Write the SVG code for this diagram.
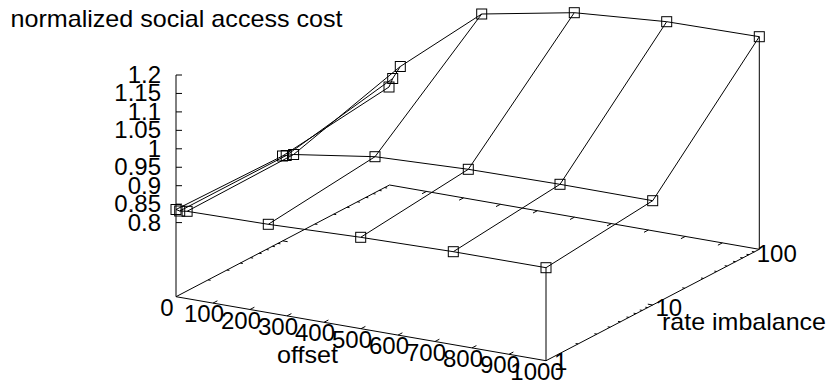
<svg xmlns="http://www.w3.org/2000/svg" xmlns:xlink="http://www.w3.org/1999/xlink" width="830" height="385" viewBox="0 0 830 385">
<style>
  .ln { fill: none; stroke: #000; stroke-width: 1; }
  .tk { fill: none; stroke: #000; stroke-width: 1; }
  .t { font-family: "Liberation Sans", Arial, sans-serif; font-size: 24px; fill: #000; }
  .e { text-anchor: end; }
  .m { text-anchor: middle; }
</style>
<defs>
  <rect id="pt" x="-5" y="-5" width="10" height="10" fill="none" stroke="#000" stroke-width="1"/>
</defs>
<rect x="0" y="0" width="830" height="385" fill="#fff"/>

<g id="title">
  <text class="t" x="10.5" y="27" textLength="332" lengthAdjust="spacingAndGlyphs">normalized social access cost</text>
</g>

<g id="base">
  <path class="ln" d="M176 296.7 L546 360.7 L759.3 249.3 L389.5 185 Z"/>
  <path class="ln" d="M176 296.7 L176 75"/>
  <path class="ln" d="M546 267.7 L546 360.7"/>
  <path class="ln" d="M759.3 36.7 L759.3 249.3"/>
</g>

<g id="ticks">
  <path class="tk" d="M176 75 h6 M176 93.45 h6 M176 111.9 h6 M176 130.35 h6 M176 148.8 h6 M176 167.25 h6 M176 185.7 h6 M176 204.15 h6 M176 222.6 h6"/>
  <path class="tk" d="M213 303.1 l4.4 -2.3 M250 309.5 l4.4 -2.3 M287 315.9 l4.4 -2.3 M324 322.3 l4.4 -2.3 M361 328.7 l4.4 -2.3 M398 335.1 l4.4 -2.3 M435 341.5 l4.4 -2.3 M472 347.9 l4.4 -2.3 M509 354.3 l4.4 -2.3"/>
  <path class="tk" d="M426.5 191.4 l-4.4 2.3 M463.5 197.9 l-4.4 2.3 M500.4 204.3 l-4.4 2.3 M537.4 210.7 l-4.4 2.3 M574.4 217.2 l-4.4 2.3 M611.4 223.6 l-4.4 2.3 M648.4 230 l-4.4 2.3 M685.3 236.4 l-4.4 2.3 M722.3 242.9 l-4.4 2.3"/>
  <path class="tk" d="M578.1 343.9 l-2.5 -0.4 M596.9 334.1 l-2.5 -0.4 M610.2 327.2 l-2.5 -0.4 M620.5 321.8 l-2.5 -0.4 M629 317.4 l-2.5 -0.4 M636.1 313.6 l-2.5 -0.4 M642.3 310.4 l-2.5 -0.4 M647.8 307.6 l-2.5 -0.4 M652.7 305 l-4.9 -0.85 M684.8 288.2 l-2.5 -0.4 M703.5 278.4 l-2.5 -0.4 M716.9 271.5 l-2.5 -0.4 M727.2 266.1 l-2.5 -0.4 M735.6 261.7 l-2.5 -0.4 M742.8 257.9 l-2.5 -0.4 M749 254.7 l-2.5 -0.4 M754.4 251.9 l-2.5 -0.4"/>
  <path class="tk" d="M208.1 279.9 l2.5 0.4 M226.9 270 l2.5 0.4 M240.3 263.1 l2.5 0.4 M250.6 257.7 l2.5 0.4 M259.1 253.2 l2.5 0.4 M266.2 249.5 l2.5 0.4 M272.4 246.3 l2.5 0.4 M277.9 243.4 l2.5 0.4 M282.75 240.85 l4.9 0.85 M314.9 224 l2.5 0.4 M333.7 214.2 l2.5 0.4 M347 207.2 l2.5 0.4 M357.4 201.8 l2.5 0.4 M365.8 197.4 l2.5 0.4 M373 193.6 l2.5 0.4 M379.1 190.4 l2.5 0.4 M384.6 187.6 l2.5 0.4"/>
</g>

<g id="z-labels">
  <text class="t e" x="161" y="83">1.2</text>
  <text class="t e" x="161" y="101.45">1.15</text>
  <text class="t e" x="161" y="119.9">1.1</text>
  <text class="t e" x="161" y="138.35">1.05</text>
  <text class="t e" x="161" y="156.8">1</text>
  <text class="t e" x="161" y="175.25">0.95</text>
  <text class="t e" x="161" y="193.7">0.9</text>
  <text class="t e" x="161" y="212.15">0.85</text>
  <text class="t e" x="161" y="230.6">0.8</text>
</g>

<g id="offset-labels">
  <text class="t m" x="167" y="315.7">0</text>
  <text class="t m" x="204" y="322.1">100</text>
  <text class="t m" x="241" y="328.5">200</text>
  <text class="t m" x="278" y="334.9">300</text>
  <text class="t m" x="315" y="341.3">400</text>
  <text class="t m" x="352" y="347.7">500</text>
  <text class="t m" x="389" y="354.1">600</text>
  <text class="t m" x="426" y="360.5">700</text>
  <text class="t m" x="463" y="366.9">800</text>
  <text class="t m" x="500" y="373.3">900</text>
  <text class="t m" x="537" y="379.7">1000</text>
  <text class="t" x="277" y="363.3" textLength="61" lengthAdjust="spacingAndGlyphs">offset</text>
</g>

<g id="rate-labels">
  <text class="t" x="554" y="370">1</text>
  <text class="t" x="655.5" y="316">10</text>
  <text class="t" x="756.7" y="261.5">100</text>
  <text class="t" x="662" y="329.5" textLength="164" lengthAdjust="spacingAndGlyphs">rate imbalance</text>
</g>

<g id="surface">
  <polyline class="ln" points="176,209.5 179.7,211 187.1,211.3 268.3,224.3 360.7,237.3 453.3,251.7 546,267.7"/>
  <polyline class="ln" points="282.5,156 286.2,155.5 293.6,154.5 375,156.7 468.3,169.3 560,184.3 652.7,200.7"/>
  <polyline class="ln" points="389,87 392.7,78.5 400.3,66.5 481.7,14 574.3,12.7 666.7,21.7 759.3,36.7"/>
  <polyline class="ln" points="176,209.5 282.5,156 389,87"/>
  <polyline class="ln" points="179.7,211 286.2,155.5 392.7,78.5"/>
  <polyline class="ln" points="187.1,211.3 293.6,154.5 400.3,66.5"/>
  <polyline class="ln" points="268.3,224.3 375,156.7 481.7,14"/>
  <polyline class="ln" points="360.7,237.3 468.3,169.3 574.3,12.7"/>
  <polyline class="ln" points="453.3,251.7 560,184.3 666.7,21.7"/>
  <polyline class="ln" points="546,267.7 652.7,200.7 759.3,36.7"/>
</g>

<g id="points">
  <use xlink:href="#pt" x="176" y="209.5"/>
  <use xlink:href="#pt" x="179.7" y="211"/>
  <use xlink:href="#pt" x="187.1" y="211.3"/>
  <use xlink:href="#pt" x="268.3" y="224.3"/>
  <use xlink:href="#pt" x="360.7" y="237.3"/>
  <use xlink:href="#pt" x="453.3" y="251.7"/>
  <use xlink:href="#pt" x="546" y="267.7"/>
  <use xlink:href="#pt" x="282.5" y="156"/>
  <use xlink:href="#pt" x="286.2" y="155.5"/>
  <use xlink:href="#pt" x="293.6" y="154.5"/>
  <use xlink:href="#pt" x="375" y="156.7"/>
  <use xlink:href="#pt" x="468.3" y="169.3"/>
  <use xlink:href="#pt" x="560" y="184.3"/>
  <use xlink:href="#pt" x="652.7" y="200.7"/>
  <use xlink:href="#pt" x="389" y="87"/>
  <use xlink:href="#pt" x="392.7" y="78.5"/>
  <use xlink:href="#pt" x="400.3" y="66.5"/>
  <use xlink:href="#pt" x="481.7" y="14"/>
  <use xlink:href="#pt" x="574.3" y="12.7"/>
  <use xlink:href="#pt" x="666.7" y="21.7"/>
  <use xlink:href="#pt" x="759.3" y="36.7"/>
</g>
</svg>
